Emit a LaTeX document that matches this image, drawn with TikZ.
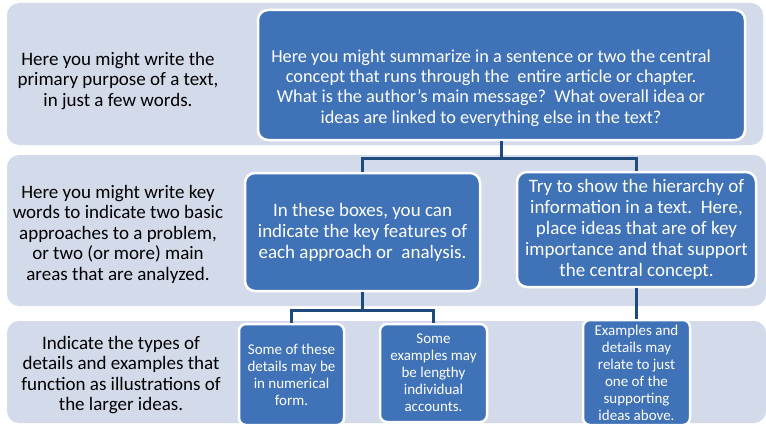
\documentclass[tikz,border=0pt]{standalone}
\usepackage{fontspec}
\setmainfont{Carlito}
\usetikzlibrary{positioning}
\definecolor{bandfill}{HTML}{D3DAE9}
\definecolor{boxfill}{HTML}{3F72B6}
\definecolor{linkcol}{HTML}{1F4A7E}
\tikzset{
	band/.style={fill=bandfill, rounded corners=12pt},
	box/.style={draw=white, line width=2.5pt, fill=boxfill, rounded corners=10pt, text=white, align=center, inner sep=0pt},
	smallbox/.style={box, rounded corners=7pt, font=\fontsize{15}{17}\selectfont},
	midbox/.style={box, font=\fontsize{19}{21}\selectfont},
	lefttext/.style={align=center, font=\fontsize{19}{20.5}\selectfont},
	link/.style={draw=linkcol, line width=2.5pt}
}

\begin{document}
\begin{tikzpicture}[x=1pt, y=-1pt]
	%%%%% START %%%%%
	\useasboundingbox (0,0) rectangle (766,428);
	
	\fill[band] (7,3) rectangle (763,145);
	\fill[band] (7,155) rectangle (766,306);
	\fill[band] (7,321) rectangle (766,423);
	
	\node[lefttext] (purpose) at (118,81) {Here you might write the\\primary purpose of a text,\\in just a few words.};
	\node[lefttext] (keywords) at (118,234) {Here you might write key\\words to indicate two basic\\approaches to a problem,\\or two (or more) main\\areas that are analyzed.};
	\node[lefttext] (types) at (121,375) {Indicate the types of\\details and examples that\\function as illustrations of\\the larger ideas.};
	
	\node[box, minimum width=487pt, minimum height=130pt] (central) at (501.5,75) {};
	\node[align=center, text=white, font=\fontsize{18.3}{20.2}\selectfont] (centraltext) at (491,88) {Here you might summarize in a sentence or two the central\\concept that runs through the\ \ entire article or chapter.\\What is the author's main message?\ \ What overall idea or\\ideas are linked to everything else in the text?};
	
	\node[midbox, minimum width=235pt, minimum height=118pt] (features) at (362.5,232) {In these boxes, you can\\indicate the key features of\\each approach or\ \ analysis.};
	\node[midbox, minimum width=239pt, minimum height=115pt] (hierarchy) at (636.5,229.5) {Try to show the hierarchy of\\information in a text.\ \ Here,\\place ideas that are of key\\importance and that support\\the central concept.};
	
	\node[smallbox, minimum width=105pt, minimum height=101pt] (numeric) at (291.5,374.5) {Some of these\\details may be\\in numerical\\form.};
	\node[smallbox, minimum width=107pt, minimum height=98pt] (lengthy) at (433.5,373) {Some\\examples may\\be lengthy\\individual\\accounts.};
	\node[smallbox, minimum width=107pt, minimum height=105pt] (support) at (636.5,372.5) {Examples and\\details may\\relate to just\\one of the\\supporting\\ideas above.};
	
	\draw[link] (central.south) -- ++(0,17) coordinate (split1) -| (features.north);
	\draw[link] (split1) -| (hierarchy.north);
	\draw[link] (features.south) -- ++(0,18) coordinate (split2) -| (numeric.north);
	\draw[link] (split2) -| (lengthy.north);
	\draw[link] (hierarchy.south) -- (support.north);
	%%%%% END %%%%%
\end{tikzpicture}
\end{document}
